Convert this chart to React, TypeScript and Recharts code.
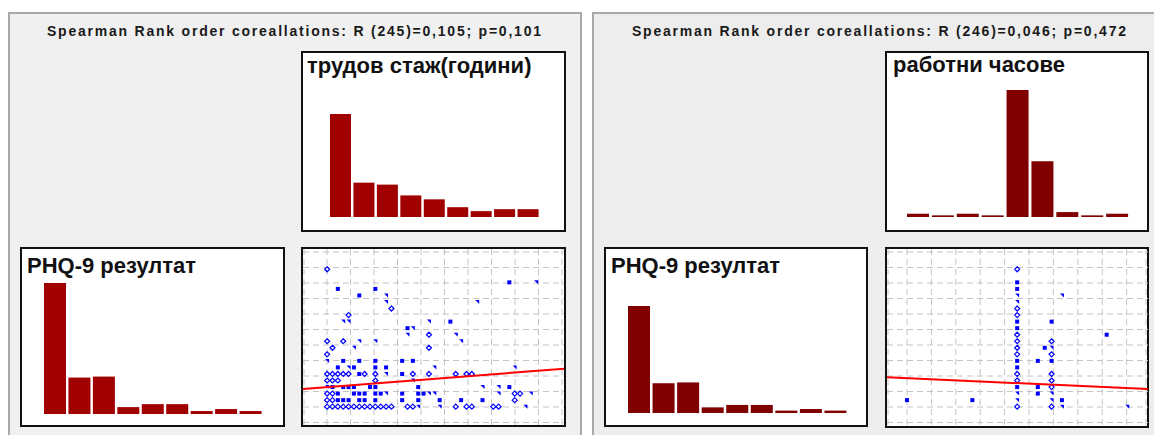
import { Bar, BarChart, CartesianGrid, Scatter, ScatterChart, XAxis, YAxis } from "recharts";

// histogram bins (9 bins each)
const stajBins = ["0", "5", "10", "15", "20", "25", "30", "35", "40"];
const stajCounts = [105, 35, 33, 22, 18, 10, 6, 8, 8];

const hourBins = ["10", "20", "25", "30", "40", "50", "60", "70", "80"];
const hourCounts = [4, 2, 4, 2, 155, 68, 6, 2, 4];

const phqBins = ["0", "3", "6", "9", "12", "15", "18", "21", "24"];
const phqCounts = [133, 37, 38, 7, 10, 10, 3, 5, 3];

// left scatter: x = трудов стаж (years), y = PHQ-9
const stajSquares = [
  { x: 2, y: 18 }, { x: 6, y: 17 }, { x: 9, y: 18 }, { x: 34, y: 19 }, { x: 23, y: 13 }, { x: 15, y: 12 },
  { x: 3, y: 7 }, { x: 6, y: 7 }, { x: 9, y: 7 }, { x: 14, y: 7 }, { x: 16, y: 7 },
  { x: 2, y: 6 }, { x: 5, y: 6 }, { x: 9, y: 6 }, { x: 11, y: 6 },
  { x: 6, y: 5 }, { x: 14, y: 5 },
  { x: 1, y: 3 }, { x: 3, y: 3 }, { x: 4, y: 3 }, { x: 5, y: 3 }, { x: 8, y: 3 }, { x: 9, y: 3 }, { x: 17, y: 3 }, { x: 34, y: 3 },
  { x: 2, y: 2 }, { x: 5, y: 2 }, { x: 6, y: 2 }, { x: 7, y: 2 }, { x: 9, y: 2 }, { x: 10, y: 2 }, { x: 14, y: 2 }, { x: 17, y: 2 }, { x: 18, y: 2 },
  { x: 2, y: 1 }, { x: 3, y: 1 }, { x: 4, y: 1 }, { x: 6, y: 1 }, { x: 7, y: 1 }, { x: 9, y: 1 }, { x: 14, y: 1 }, { x: 17, y: 1 }, { x: 21, y: 1 }, { x: 25, y: 1 }, { x: 29, y: 1 },
];
const stajDiamonds = [
  { x: 0, y: 21 }, { x: 12, y: 15 }, { x: 4, y: 14 },
  { x: 19, y: 11 }, { x: 0, y: 10 }, { x: 3, y: 10 }, { x: 1, y: 9 }, { x: 19, y: 9 }, { x: 0, y: 8 },
  { x: 0, y: 5 }, { x: 1, y: 5 }, { x: 2, y: 5 }, { x: 3, y: 5 }, { x: 4, y: 5 }, { x: 7, y: 5 }, { x: 9, y: 5 }, { x: 16, y: 5 }, { x: 19, y: 5 }, { x: 24, y: 5 }, { x: 26, y: 5 }, { x: 27, y: 5 },
  { x: 0, y: 4 }, { x: 1, y: 4 }, { x: 2, y: 4 }, { x: 9, y: 4 },
  { x: 0, y: 2 }, { x: 1, y: 2 }, { x: 35, y: 2 }, { x: 36, y: 2 },
  { x: 0, y: 1 }, { x: 1, y: 1 }, { x: 35, y: 1 },
  { x: 0, y: 0 }, { x: 1, y: 0 }, { x: 2, y: 0 }, { x: 3, y: 0 }, { x: 4, y: 0 }, { x: 5, y: 0 }, { x: 6, y: 0 }, { x: 7, y: 0 },
  { x: 8, y: 0 }, { x: 9, y: 0 }, { x: 10, y: 0 }, { x: 11, y: 0 }, { x: 12, y: 0 }, { x: 15, y: 0 }, { x: 16, y: 0 },
  { x: 24, y: 0 }, { x: 26, y: 0 }, { x: 27, y: 0 }, { x: 31, y: 0 }, { x: 32, y: 0 },
];
const stajTris = [
  { x: 11, y: 17 }, { x: 11, y: 16 }, { x: 39, y: 19 }, { x: 28, y: 16 }, { x: 3, y: 13 }, { x: 4, y: 13 }, { x: 19, y: 13 },
  { x: 16, y: 12 }, { x: 15, y: 11 }, { x: 24, y: 11 }, { x: 25, y: 10 }, { x: 6, y: 10 }, { x: 9, y: 10 }, { x: 5, y: 9 },
  { x: 0, y: 7 }, { x: 4, y: 6 }, { x: 20, y: 6 }, { x: 35, y: 6 }, { x: 11, y: 5 }, { x: 16, y: 4 },
  { x: 0, y: 3 }, { x: 29, y: 3 }, { x: 32, y: 3 }, { x: 11, y: 2 }, { x: 19, y: 2 }, { x: 20, y: 2 }, { x: 32, y: 2 }, { x: 38, y: 2 },
  { x: 17, y: 0 }, { x: 21, y: 0 }, { x: 37, y: 0 },
];
const stajFit = [{ x: -4.5, y: 2.7 }, { x: 44.2, y: 5.8 }];

// right scatter: x = работни часове, y = PHQ-9
const hourSquares = [
  { x: 40, y: 19 }, { x: 40, y: 18 }, { x: 40, y: 13 }, { x: 40, y: 12 }, { x: 40, y: 7 }, { x: 40, y: 6 }, { x: 40, y: 3 },
  { x: 50, y: 13 }, { x: 50, y: 7 }, { x: 48, y: 9 }, { x: 46, y: 7 }, { x: 46, y: 3 }, { x: 46, y: 2 },
  { x: 53, y: 1 }, { x: 66, y: 11 }, { x: 8, y: 1 }, { x: 27, y: 1 },
];
const hourDiamonds = [
  { x: 40, y: 21 }, { x: 40, y: 15 }, { x: 40, y: 14 }, { x: 40, y: 11 }, { x: 40, y: 10 }, { x: 40, y: 9 }, { x: 40, y: 8 },
  { x: 40, y: 5 }, { x: 40, y: 4 }, { x: 40, y: 0 },
  { x: 50, y: 10 }, { x: 50, y: 8 }, { x: 50, y: 5 }, { x: 50, y: 4 }, { x: 50, y: 3 }, { x: 50, y: 0 },
];
const hourTris = [
  { x: 40, y: 17 }, { x: 40, y: 16 }, { x: 40, y: 2 }, { x: 40, y: 1 },
  { x: 50, y: 9 }, { x: 50, y: 2 }, { x: 50, y: 1 }, { x: 53, y: 17 }, { x: 53, y: 0 }, { x: 72, y: 0 },
];
const hourFit = [{ x: 2.2, y: 4.5 }, { x: 78, y: 2.7 }];

const FONT = "'Liberation Sans', Arial, sans-serif";

const Square = (p: any) => <rect x={p.cx - 2} y={p.cy - 2} width={4} height={4} fill="#0000ff" />;
const Diamond = (p: any) => (
  <path
    d={`M${p.cx},${p.cy - 2.5}L${p.cx + 2.5},${p.cy}L${p.cx},${p.cy + 2.5}L${p.cx - 2.5},${p.cy}Z`}
    fill="#ffffff"
    stroke="#0000ff"
    strokeWidth={1.2}
  />
);
const Tri = (p: any) => (
  <path d={`M${p.cx - 2},${p.cy - 2}L${p.cx + 2},${p.cy - 2}L${p.cx + 2},${p.cy + 2}Z`} fill="#0000ff" />
);
const NoDot = () => <g />;

function Box({ left, top, w, h, children }: any) {
  return (
    <div
      style={{
        position: "absolute",
        left,
        top,
        width: w,
        height: h,
        background: "#ffffff",
        border: "2px solid #111",
        boxSizing: "border-box",
      }}
    >
      {children}
    </div>
  );
}

function BoxTitle({ text, top, left }: { text: string; top: number; left: number }) {
  return (
    <div
      style={{
        position: "absolute",
        left,
        top,
        fontFamily: FONT,
        fontWeight: 700,
        fontSize: 22,
        lineHeight: "25px",
        color: "#111",
        whiteSpace: "nowrap",
      }}
    >
      {text}
    </div>
  );
}

function Hist({ bins, counts, max, color, margin, barSize }: any) {
  const data = bins.map((b: string, i: number) => ({ bin: b, n: counts[i] }));
  return (
    <BarChart width={261} height={176} data={data} margin={margin}>
      <XAxis dataKey="bin" hide />
      <YAxis hide domain={[0, max]} />
      <Bar dataKey="n" fill={color} barSize={barSize} isAnimationActive={false} />
    </BarChart>
  );
}

function Scat({ squares, diamonds, tris, fit, xDomain, gridLeft, gridStep }: any) {
  const vGen = ({ offset }: any) =>
    [1, ...Array.from({ length: 10 }, (_, i) => gridLeft + i * gridStep), 259].map((v) => offset.left + v);
  const hGen = ({ offset }: any) => Array.from({ length: 12 }, (_, i) => offset.top + 3 + i * 15.5);
  return (
    <ScatterChart width={261} height={176} margin={{ top: 0, right: 0, bottom: 0, left: 0 }}>
      <CartesianGrid
        stroke="#c4c4c4"
        strokeDasharray="6 4"
        verticalCoordinatesGenerator={vGen}
        horizontalCoordinatesGenerator={hGen}
      />
      <XAxis type="number" dataKey="x" hide domain={xDomain} allowDataOverflow />
      <YAxis type="number" dataKey="y" hide domain={[-2.8, 24.1]} allowDataOverflow />
      <Scatter data={squares} shape={Square} isAnimationActive={false} />
      <Scatter data={tris} shape={Tri} isAnimationActive={false} />
      <Scatter data={diamonds} shape={Diamond} isAnimationActive={false} />
      <Scatter
        data={fit}
        shape={NoDot}
        line={{ stroke: "#ff0000", strokeWidth: 2 }}
        isAnimationActive={false}
      />
    </ScatterChart>
  );
}

function Title({ x, text }: { x: number; text: string }) {
  return (
    <svg style={{ position: "absolute", left: x, top: 22 }} width={500} height={20}>
      <text
        x={0}
        y={14}
        textLength={494}
        lengthAdjust="spacing"
        fontFamily={FONT}
        fontWeight={700}
        fontSize={14}
        fill="#1a1a1a"
      >
        {text}
      </text>
    </svg>
  );
}

export default function App() {
  return (
    <div style={{ position: "fixed", left: 0, top: 0, width: 1154, height: 435, background: "#fff", overflow: "hidden" }}>
      <div
        style={{
          position: "absolute",
          left: 8,
          top: 12,
          width: 574,
          height: 440,
          background: "#f0f0f0",
          border: "2px solid #a8a8a8",
          boxSizing: "border-box",
        }}
      />
      <div
        style={{
          position: "absolute",
          left: 592,
          top: 12,
          width: 580,
          height: 440,
          background: "#ededed",
          border: "2px solid #a8a8a8",
          boxSizing: "border-box",
        }}
      />
      <Title x={47} text="Spearman Rank order coreallations: R (245)=0,105; p=0,101" />
      <Title x={632} text="Spearman Rank order coreallations: R (246)=0,046; p=0,472" />

      <Box left={301} top={51} w={265} h={181}>
        <BoxTitle text="трудов стаж(години)" left={4} top={0} />
        <Hist bins={stajBins} counts={stajCounts} max={105} color="#a00000" barSize={21}
          margin={{ top: 61, right: 24, bottom: 12, left: 26 }} />
      </Box>
      <Box left={301} top={247} w={265} h={180}>
        <Scat squares={stajSquares} diamonds={stajDiamonds} tris={stajTris} fit={stajFit}
          xDomain={[-4.5, 44.2]} gridLeft={24} gridStep={23.5} />
      </Box>
      <Box left={20} top={247} w={265} h={180}>
        <BoxTitle text="PHQ-9 резултат" left={5} top={4} />
        <Hist bins={phqBins} counts={phqCounts} max={133} color="#a00000" barSize={22}
          margin={{ top: 34, right: 20, bottom: 11, left: 21 }} />
      </Box>

      <Box left={885} top={51} w={264} h={181}>
        <BoxTitle text="работни часове" left={6} top={-1} />
        <Hist bins={hourBins} counts={hourCounts} max={155} color="#800000" barSize={22}
          margin={{ top: 37, right: 18, bottom: 12, left: 19 }} />
      </Box>
      <Box left={885} top={247} w={264} h={181}>
        <Scat squares={hourSquares} diamonds={hourDiamonds} tris={hourTris} fit={hourFit}
          xDomain={[2.2, 78]} gridLeft={20} gridStep={24.4} />
      </Box>
      <Box left={604} top={247} w={264} h={180}>
        <BoxTitle text="PHQ-9 резултат" left={5} top={4} />
        <Hist bins={phqBins} counts={phqCounts} max={133} color="#800000" barSize={22}
          margin={{ top: 57, right: 19, bottom: 12, left: 21 }} />
      </Box>
    </div>
  );
}
